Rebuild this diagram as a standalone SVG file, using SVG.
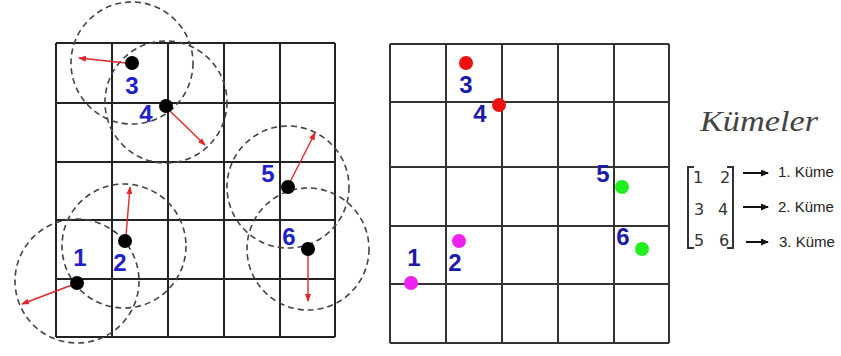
<svg xmlns="http://www.w3.org/2000/svg" width="841" height="356" viewBox="0 0 841 356">
<style>
.grid{stroke:#222;stroke-width:2;fill:none}
.gridr{stroke:#333;stroke-width:2;fill:none}
.ring{fill:none;stroke:#444;stroke-width:1.6;stroke-dasharray:6 4}
.dot{fill:#000}
.lbl{font-family:"Liberation Sans",Arial,sans-serif;font-weight:bold;font-size:24px;fill:#1e22c8;text-anchor:middle}
.lblr{font-family:"Liberation Sans",Arial,sans-serif;font-weight:bold;font-size:24px;fill:#1c1ca8;text-anchor:middle}
.move{stroke:#e02828;stroke-width:1.4;fill:none;marker-end:url(#ra)}
.mat{font-family:"DejaVu Sans","Liberation Sans",sans-serif;font-size:16px;fill:#333;text-anchor:middle}
.kume{font-family:"Liberation Sans",Arial,sans-serif;font-size:15px;fill:#222}
.brk{stroke:#333;stroke-width:2;fill:none}
.marr{stroke:#111;stroke-width:2;fill:none;marker-end:url(#ka)}
</style>
<defs>
<marker id="ra" markerWidth="8" markerHeight="6" refX="7" refY="3" orient="auto" markerUnits="userSpaceOnUse">
<path d="M0,0 L8,3 L0,6 z" fill="#e02828"/>
</marker>
<marker id="ka" markerWidth="8" markerHeight="7" refX="7" refY="3.5" orient="auto" markerUnits="userSpaceOnUse">
<path d="M0,0 L8,3.5 L0,7 z" fill="#111"/>
</marker>
</defs>
<rect width="841" height="356" fill="#fff"/>

<g id="left-grid">
<path class="grid" d="M56,43V337M112,43V337M168,43V337M224,43V337M280,43V337M335,43V337M56,43H335M56,103H335M56,162H335M56,220H335M56,279H335M56,337H335"/>
</g>
<g id="left-rings">
<circle class="ring" cx="132" cy="63" r="61"/>
<circle class="ring" cx="166" cy="102" r="61"/>
<circle class="ring" cx="288" cy="187" r="61"/>
<circle class="ring" cx="308" cy="249" r="61"/>
<circle class="ring" cx="124" cy="246" r="62"/>
<circle class="ring" cx="77" cy="281" r="62"/>
</g>
<g id="connectors">
<line class="move" x1="126" y1="63" x2="79" y2="58"/>
<line class="move" x1="170" y1="111" x2="205" y2="145"/>
<line class="move" x1="290" y1="182" x2="315" y2="133"/>
<line class="move" x1="126" y1="236" x2="130" y2="187"/>
<line class="move" x1="72" y1="285" x2="22" y2="304"/>
<line class="move" x1="308" y1="254" x2="308" y2="301"/>
<line class="marr" x1="743" y1="173" x2="768" y2="173"/>
<line class="marr" x1="743" y1="207" x2="768" y2="207"/>
<line class="marr" x1="746" y1="242" x2="768" y2="242"/>
</g>
<g id="p1"><circle class="dot" cx="77" cy="283" r="7"/><text class="lbl" x="80" y="266">1</text></g>
<g id="p2"><circle class="dot" cx="125" cy="241" r="7"/><text class="lbl" x="120" y="271">2</text></g>
<g id="p3"><circle class="dot" cx="132" cy="63" r="7"/><text class="lbl" x="132" y="94">3</text></g>
<g id="p4"><circle class="dot" cx="166" cy="106" r="7"/><text class="lbl" x="146" y="122">4</text></g>
<g id="p5"><circle class="dot" cx="288" cy="187" r="7"/><text class="lbl" x="268" y="182">5</text></g>
<g id="p6"><circle class="dot" cx="308" cy="249" r="7"/><text class="lbl" x="289" y="245">6</text></g>

<g id="right-grid">
<path class="gridr" d="M390,44V343M446,44V343M502,44V343M558,44V343M614,44V343M669,44V343M390,44H669M390,102H669M390,167H669M390,226H669M390,284H669M390,343H669"/>
</g>
<g id="r1"><circle cx="411" cy="283" r="7" fill="#ee22ee"/><text class="lblr" x="414" y="266">1</text></g>
<g id="r2"><circle cx="459" cy="241" r="7" fill="#ee22ee"/><text class="lblr" x="455" y="271">2</text></g>
<g id="r3"><circle cx="466" cy="63" r="7" fill="#ee1111"/><text class="lblr" x="466" y="93">3</text></g>
<g id="r4"><circle cx="499" cy="105" r="7" fill="#ee1111"/><text class="lblr" x="480" y="122">4</text></g>
<g id="r5"><circle cx="622" cy="187" r="7" fill="#22ee22"/><text class="lblr" x="603" y="182">5</text></g>
<g id="r6"><circle cx="642" cy="249" r="7" fill="#22ee22"/><text class="lblr" x="623" y="245">6</text></g>

<g id="legend">
<text x="700" y="131" font-family="Liberation Serif,serif" font-style="italic" font-size="29" fill="#444" textLength="118" lengthAdjust="spacingAndGlyphs">Kümeler</text>
<path class="brk" d="M694,167H688V248H694M727,167H733V248H727"/>
<text class="mat" x="698" y="183">1</text><text class="mat" x="725" y="183">2</text>
<text class="mat" x="699" y="215">3</text><text class="mat" x="723" y="215">4</text>
<text class="mat" x="699" y="246">5</text><text class="mat" x="724" y="246">6</text>
<text class="kume" x="778" y="177">1. Küme</text>
<text class="kume" x="778" y="212">2. Küme</text>
<text class="kume" x="779" y="247">3. Küme</text>
</g>
</svg>
